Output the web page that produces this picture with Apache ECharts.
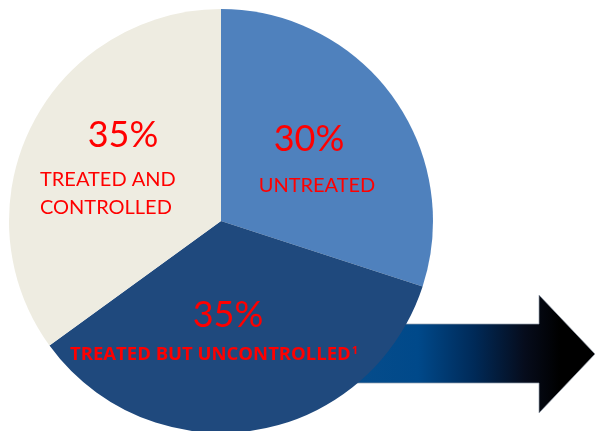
<!DOCTYPE html>
<html>
<head>
<meta charset="utf-8">
<script src="https://cdn.jsdelivr.net/npm/echarts@6/dist/echarts.min.js"></script>
<style>
  html, body { margin: 0; padding: 0; background: #ffffff; }
  #chart { width: 595px; height: 431px; }
</style>
</head>
<body>
<div id="chart"></div>
<script>
// Hypertension status breakdown
const categories = ['UNTREATED', 'TREATED BUT UNCONTROLLED', 'TREATED AND CONTROLLED'];
const values = [30, 35, 35];
const sliceColors = ['#4f81bd', '#1f497d', '#eeece1'];

const chart = echarts.init(document.getElementById('chart'), null, { renderer: 'canvas' });

const FONT = 'Lato';
const BOLD_FONT = 'Open Sans';
const RED = '#ff0000';

function pct(i) { return values[i] + '%'; }

function label(x, y, text, size, extra) {
  return {
    type: 'text', z: 100, x, y,
    style: Object.assign({
      text, fontFamily: FONT, fontSize: size, fontWeight: 'normal',
      fill: RED, align: 'center', verticalAlign: 'middle'
    }, extra || {})
  };
}

const option = {
  animation: false,
  backgroundColor: '#ffffff',
  series: [{
    type: 'pie',
    z: 2,
    center: [221, 221],
    radius: [0, 212],
    startAngle: 90,
    clockwise: true,
    label: { show: false },
    labelLine: { show: false },
    emphasis: { disabled: true },
    itemStyle: { borderWidth: 0 },
    data: categories.map((name, i) => ({
      name,
      value: values[i],
      itemStyle: { color: sliceColors[i] }
    }))
  }],
  graphic: [
    // gradient arrow running out from behind the pie
    {
      type: 'polygon',
      z: 0,
      shape: {
        points: [[300, 324], [539, 324], [539, 295], [595, 354], [539, 413], [539, 383], [300, 383]]
      },
      style: {
        fill: {
          type: 'linear', x: 0, y: 0, x2: 1, y2: 0,
          colorStops: [
            { offset: 0, color: '#0b4f8c' },
            { offset: 0.4, color: '#00498a' },
            { offset: 0.59, color: '#002a58' },
            { offset: 0.76, color: '#060c1c' },
            { offset: 0.88, color: '#000000' },
            { offset: 1, color: '#000000' }
          ]
        },
        stroke: 'rgba(150,160,175,0.7)',
        lineWidth: 1
      }
    },
    // slice labels
    label(123, 135, pct(2), 36),
    label(40, 180, 'TREATED AND', 20, { align: 'left' }),
    label(40, 208, 'CONTROLLED', 20, { align: 'left' }),
    label(309, 139, pct(0), 36),
    label(317, 186, categories[0], 20),
    label(228, 315, pct(1), 36),
    label(70, 355, '{m|' + categories[1] + '}{s|1}', 18.5, {
      align: 'left',
      rich: {
        m: { fontFamily: BOLD_FONT, fontWeight: 'bold', fontSize: 18.5, fill: RED, verticalAlign: 'middle' },
        s: { fontFamily: BOLD_FONT, fontWeight: 'bold', fontSize: 11, fill: RED, verticalAlign: 'top', padding: [0, 0, 0, 1] }
      }
    })
  ]
};

chart.setOption(option);
</script>
</body>
</html>
